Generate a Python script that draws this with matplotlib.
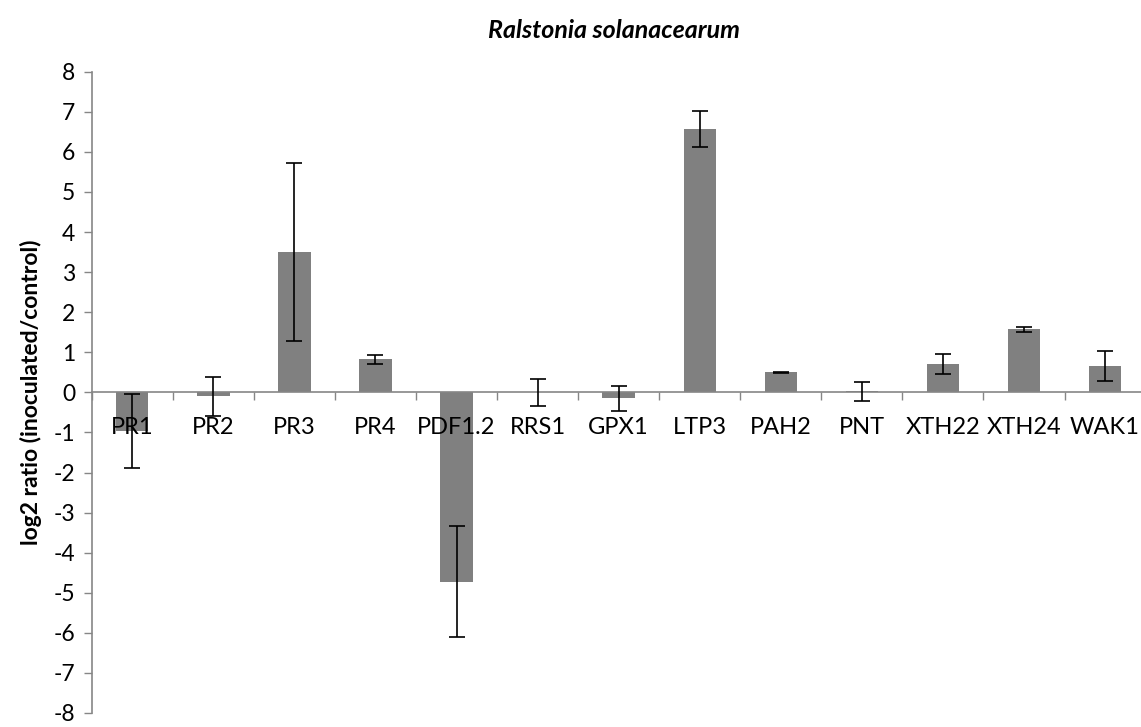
import numpy as np
import matplotlib.pyplot as plt

plt.rcParams['font.family'] = ['Lato', 'DejaVu Sans']

# Data
genes = ["PR1", "PR2", "PR3", "PR4", "PDF1.2", "RRS1", "GPX1", "LTP3",
         "PAH2", "PNT", "XTH22", "XTH24", "WAK1"]
log2_ratio = [-0.96, -0.10, 3.51, 0.82, -4.72, 0.0, -0.15, 6.57,
              0.50, 0.03, 0.70, 1.57, 0.65]
std_err = [0.93, 0.49, 2.22, 0.11, 1.38, 0.33, 0.31, 0.44,
           0.01, 0.24, 0.25, 0.07, 0.37]
y_ticks = list(range(-8, 9))

axis_grey = "#868686"

fig = plt.figure(figsize=(11.41, 7.27), dpi=100)
ax = fig.add_axes([0.0804, 0.0193, 0.9236, 0.882])

x = np.arange(len(genes))
ax.bar(x, log2_ratio, width=0.4, color="#808080", zorder=1)
ax.errorbar(x, log2_ratio, yerr=std_err, fmt="none", ecolor="black",
            elinewidth=1.2, capsize=6, capthick=1.2, zorder=3)

ax.set_xlim(-0.5, len(genes) - 0.5)
ax.set_ylim(-8, 8)
ax.set_yticks(y_ticks)
ax.set_yticklabels([str(v) for v in y_ticks])

ax.set_xticks(x)
ax.set_xticklabels(genes)
ax.set_xticks(np.arange(len(genes) + 1) - 0.5, minor=True)
ax.tick_params(axis="x", which="major", length=0, pad=18, labelsize=17)
ax.tick_params(axis="x", which="minor", length=6, width=1, color=axis_grey,
               direction="out")
ax.tick_params(axis="y", length=6, width=1, color=axis_grey, pad=6,
               labelsize=16.5)

for side in ["top", "right"]:
    ax.spines[side].set_visible(False)
ax.spines["bottom"].set_position(("data", 0))
ax.spines["bottom"].set_color(axis_grey)
ax.spines["left"].set_color(axis_grey)
ax.spines["bottom"].set_linewidth(1.2)
ax.spines["left"].set_linewidth(1.2)

ax.set_ylabel("log2 ratio (inoculated/control)", fontsize=16.5,
              fontweight="bold", labelpad=8)
fig.text(0.538, 0.958, "Ralstonia solanacearum", fontsize=18,
         fontweight="bold", style="italic", ha="center", va="center")

fig.savefig("out.png", dpi=100)
